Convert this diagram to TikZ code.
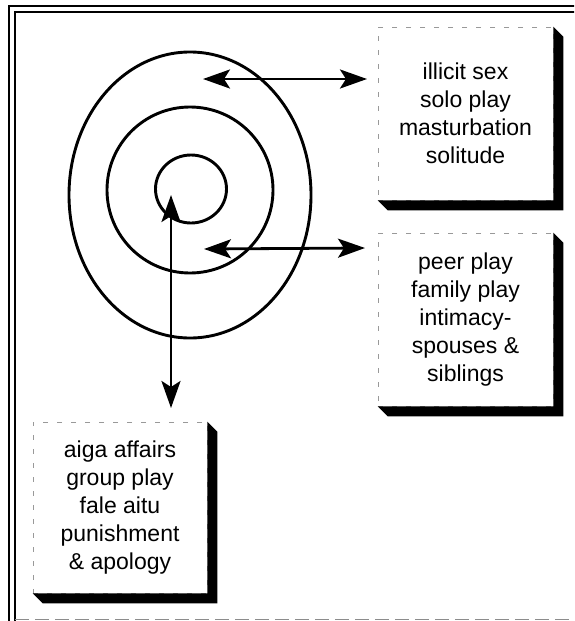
\documentclass[tikz,border=0pt]{standalone}
\usepackage{fontspec}
\setmainfont{Liberation Sans}
\usetikzlibrary{arrows.meta}
\tikzset{
  textbox/.style={
    draw=black!40,
    dash pattern=on 5pt off 9pt,
    line width=0.6pt,
    fill=white,
    align=center,
    inner sep=0pt,
    font=\fontsize{23}{28}\selectfont
  },
  ring/.style={
    line width=2.9pt
  },
  link/.style={
    line width=2.8pt,
    {Stealth[length=27pt,width=19pt,inset=6pt]}-{Stealth[length=27pt,width=19pt,inset=6pt]}
  }
}

\begin{document}
\begin{tikzpicture}[x=1pt,y=-1pt]
  \useasboundingbox (0,0) rectangle (574,621);
  \clip (0,0) rectangle (574,621);
  \draw[line width=1.5pt] (580,6) -- (9,6) -- (9,630);
  \draw[line width=1.5pt] (580,12) -- (15,12) -- (15,630);
  \draw[black!45,line width=0.8pt,dash pattern=on 14pt off 6pt] (15,619.5) -- (574,619.5);

  \draw[ring] (190,195) ellipse (121pt and 143pt);
  \draw[ring] (190,190) ellipse (83pt and 83pt);
  \draw[ring] (191,189) ellipse (35.5pt and 34pt);

  \node[textbox,minimum width=175pt,minimum height=173pt] (solo) at (465.5,113.5)
    {illicit sex\\solo play\\masturbation\\solitude};
  \node[textbox,minimum width=175pt,minimum height=173pt] (peer) at (465.5,319.5)
    {peer play\\family play\\intimacy-\\spouses \&\\siblings};
  \node[textbox,minimum width=174pt,minimum height=171pt] (aiga) at (120,507.5)
    {aiga affairs\\group play\\fale aitu\\punishment\\\& apology};
  \foreach \b in {solo,peer,aiga}{
    \fill (\b.north east) -- ++(10,10) |- ([shift={(10,10)}]\b.south west)
      -- (\b.south west) -- (\b.south east) -- cycle;
  }

  \coordinate (s1) at (203,79);
  \coordinate (e1) at (367,79);
  \coordinate (s2) at (204,249);
  \coordinate (e2) at (365,248);
  \coordinate (s3) at (171,195);
  \coordinate (e3) at (171,408);
  \draw[link] (s1) -- (e1);
  \draw[link] (s2) -- (e2);
  \draw[link] (s3) -- (e3);
\end{tikzpicture}
\end{document}
